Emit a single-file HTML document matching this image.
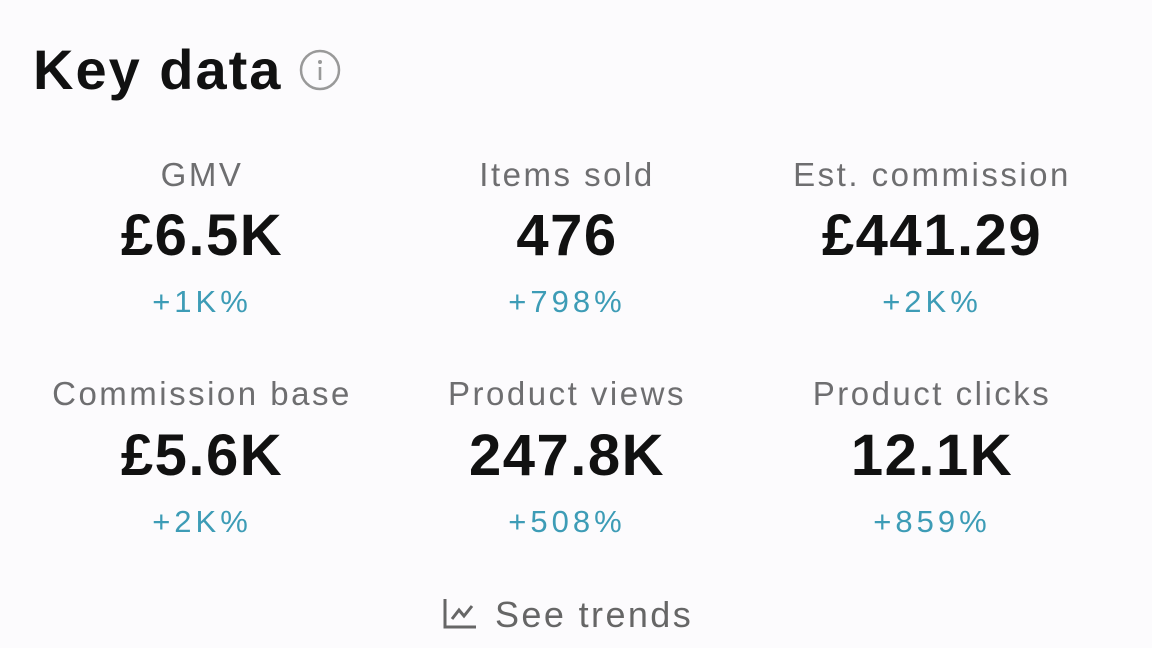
<!DOCTYPE html>
<html><head><style>
body{margin:0;width:1152px;height:648px;background:#fcfbfd;font-family:"Liberation Sans",sans-serif;position:relative;overflow:hidden}
.t{position:absolute;line-height:1;white-space:nowrap;text-align:center;width:400px}
.l{font-size:33px;color:#6e6e70;letter-spacing:2.5px}
.v{font-size:58px;font-weight:bold;color:#111;letter-spacing:1.5px}
.p{font-size:31px;color:#3d9cb6;letter-spacing:4px}
</style></head><body>
<div style="position:absolute;left:33px;top:42px;font-size:56px;font-weight:bold;color:#111;line-height:1;letter-spacing:2px">Key data</div>
<svg style="position:absolute;left:298px;top:48px" width="44" height="44"><circle cx="22" cy="22" r="19" fill="none" stroke="#999" stroke-width="2.5"/><circle cx="22" cy="14" r="2" fill="#999"/><rect x="20.7" y="19" width="2.6" height="13" fill="#999"/></svg>

<div class="t l" style="left:2px;top:158px">GMV</div>
<div class="t v" style="left:2px;top:207px">£6.5K</div>
<div class="t p" style="left:2px;top:286px">+1K%</div>
<div class="t l" style="left:367px;top:158px">Items sold</div>
<div class="t v" style="left:367px;top:207px">476</div>
<div class="t p" style="left:367px;top:286px">+798%</div>
<div class="t l" style="left:732px;top:158px">Est. commission</div>
<div class="t v" style="left:732px;top:207px">£441.29</div>
<div class="t p" style="left:732px;top:286px">+2K%</div>

<div class="t l" style="left:2px;top:377px">Commission base</div>
<div class="t v" style="left:2px;top:427px">£5.6K</div>
<div class="t p" style="left:2px;top:506px">+2K%</div>
<div class="t l" style="left:367px;top:377px">Product views</div>
<div class="t v" style="left:367px;top:427px">247.8K</div>
<div class="t p" style="left:367px;top:506px">+508%</div>
<div class="t l" style="left:732px;top:377px">Product clicks</div>
<div class="t v" style="left:732px;top:427px">12.1K</div>
<div class="t p" style="left:732px;top:506px">+859%</div>

<svg style="position:absolute;left:442px;top:597px" width="36" height="34"><path d="M3 2 V30 H34" fill="none" stroke="#666" stroke-width="3"/><path d="M10 22 L17 13 L22 19 L30 9" fill="none" stroke="#666" stroke-width="3"/></svg>
<div style="position:absolute;left:495px;top:597px;font-size:36px;color:#666;line-height:1;letter-spacing:2.4px">See trends</div>
</body></html>
